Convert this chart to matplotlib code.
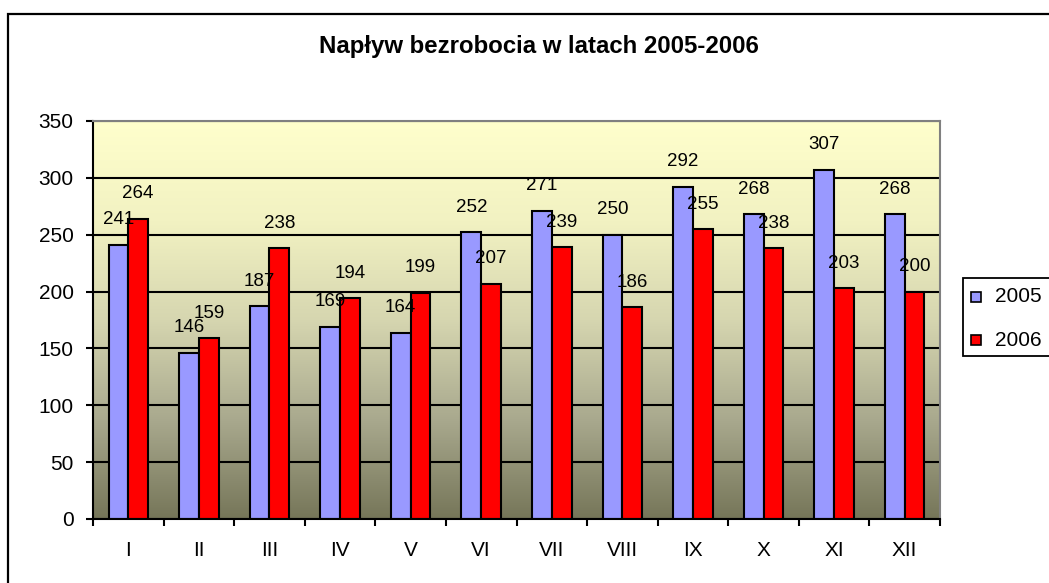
import numpy as np
import matplotlib.pyplot as plt
from matplotlib.colors import LinearSegmentedColormap
from matplotlib.patches import Rectangle

plt.rcParams['font.family'] = ['Liberation Sans', 'DejaVu Sans']

# data
months = ['I', 'II', 'III', 'IV', 'V', 'VI', 'VII', 'VIII', 'IX', 'X', 'XI', 'XII']
series_names = ['2005', '2006']
v2005 = [241, 146, 187, 169, 164, 252, 271, 250, 292, 268, 307, 268]
v2006 = [264, 159, 238, 194, 199, 207, 239, 186, 255, 238, 203, 200]
colors = ['#9999FF', '#FF0000']

W, H = 1049, 583
fig = plt.figure(figsize=(W / 100, H / 100), dpi=100)

def px(x, y):
    # pixel coords (from top-left) -> figure fraction
    return x / W, 1 - y / H

# outer chart border (runs off right and bottom edges)
fig.patches.append(Rectangle(px(8, 1000), 2000 / W, (1000 - 14) / H, transform=fig.transFigure,
                             fill=False, edgecolor='black', linewidth=1.6, clip_on=False))

left, top, right, bottom = 93, 121, 940, 519
ax = fig.add_axes([left / W, 1 - bottom / H, (right - left) / W, (bottom - top) / H])

x = np.arange(len(months))
ax.set_xlim(-0.5, len(months) - 0.5)
ax.set_ylim(0, 350)

# gradient background
cmap = LinearSegmentedColormap.from_list('bg', [(0, '#FFFFCC'), (0.25, '#F2F2C2'), (0.5, '#D6D6B0'),
                                                (0.75, '#A9A98E'), (1.0, '#767659')])
grad = np.linspace(0, 1, 256).reshape(-1, 1)
ax.imshow(grad, cmap=cmap, aspect='auto', extent=[-0.5, len(months) - 0.5, 0, 350],
          origin='upper', zorder=0)

ax.set_yticks(np.arange(0, 351, 50))
ax.grid(axis='y', color='black', linewidth=1.5, zorder=1)
ax.set_axisbelow(True)

bw = 0.28
for i, (vals, c) in enumerate(zip([v2005, v2006], colors)):
    xs = x + (i - 0.5) * bw
    ax.bar(xs, vals, width=bw, color=c, edgecolor='black', linewidth=1.5, zorder=2)
    for xi, v in zip(xs, vals):
        ax.annotate(str(v), (xi, v), xytext=(0, 25), textcoords='offset pixels',
                    ha='center', va='center', fontsize=13.5, zorder=3)

# spines
for s in ['top', 'right']:
    ax.spines[s].set_color('#808080')
    ax.spines[s].set_linewidth(1.5)
for s in ['left', 'bottom']:
    ax.spines[s].set_color('black')
    ax.spines[s].set_linewidth(1.5)

ax.tick_params(axis='y', direction='out', length=5, width=1.5, pad=9, labelsize=15)
ax.set_xticks(np.arange(-0.5, len(months)), labels=[])
ax.tick_params(axis='x', which='major', direction='out', length=5, width=1.5)
ax.set_xticks(x, labels=months, minor=True)
ax.tick_params(axis='x', which='minor', length=0, pad=16, labelsize=15)

# title
fig.text(*px(539, 47), 'Napływ bezrobocia w latach 2005-2006', ha='center', va='center',
         fontsize=17.3, fontweight='bold')

# legend (box runs off right edge)
fig.patches.append(Rectangle(px(963, 356), 200 / W, (356 - 278) / H, transform=fig.transFigure,
                             facecolor='white', edgecolor='black', linewidth=1.3, clip_on=False))
for name, c, yc in zip(series_names, colors, [297, 340]):
    fig.patches.append(Rectangle(px(971, yc + 5), 10 / W, 10 / H, transform=fig.transFigure,
                                 facecolor=c, edgecolor='black', linewidth=1.2))
    fig.text(*px(995, yc), name, ha='left', va='center', fontsize=15)

fig.savefig('out.png', dpi=100)
